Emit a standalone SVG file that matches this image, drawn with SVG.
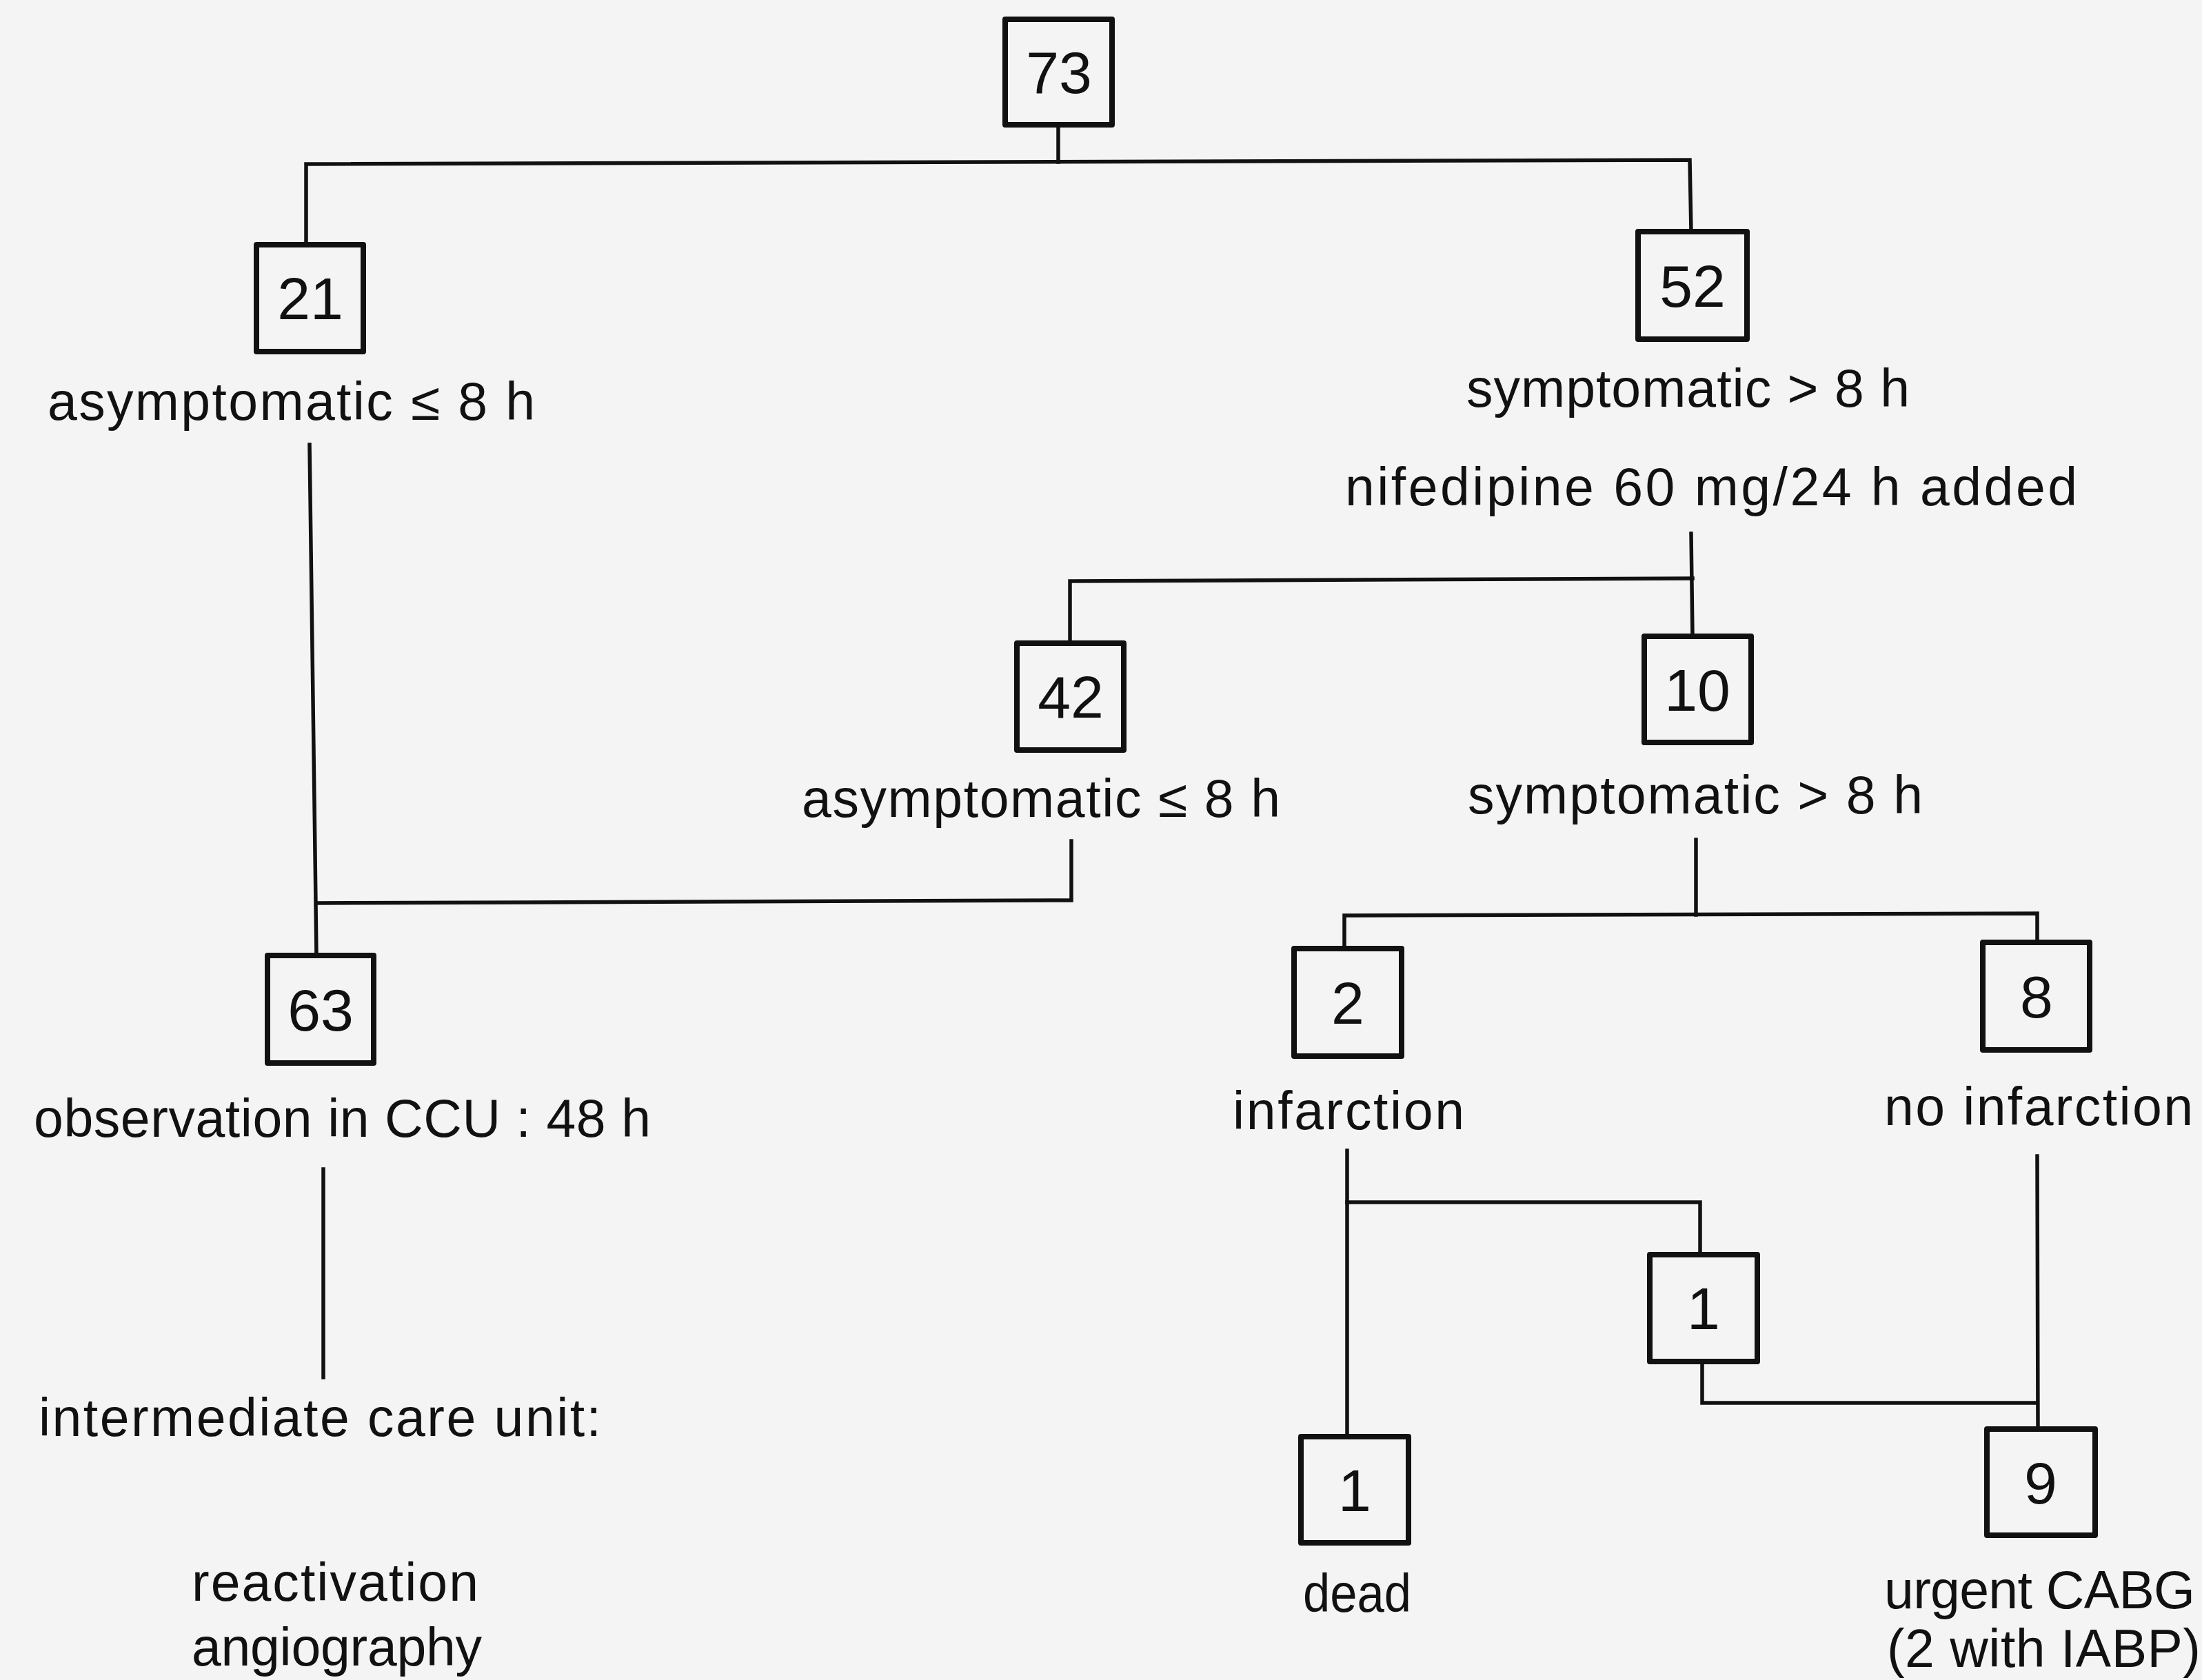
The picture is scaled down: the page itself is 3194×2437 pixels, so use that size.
<svg xmlns="http://www.w3.org/2000/svg" width="3194" height="2437" viewBox="0 0 3194 2437">
<style>
  .bg { fill: #f4f4f4; }
  .box { fill: none; stroke: #111; stroke-width: 8; stroke-linejoin: round; }
  .num { font-family: "Liberation Sans", Arial, sans-serif; font-size: 86px; fill: #111; text-anchor: middle; }
  .lbl { font-family: "Liberation Sans", Arial, sans-serif; font-size: 77px; fill: #111; }
  .conn path { fill: none; stroke: #111; stroke-width: 5.5; stroke-linecap: square; stroke-linejoin: miter; }
</style>
<rect class="bg" x="0" y="0" width="3194" height="2437"/>

<g id="connectors" class="conn">
  <path d="M1535,181 L1535,235"/>
  <path d="M444,355 L444,238 L2451,232 L2453,336"/>
  <path d="M449,645 L459,1386"/>
  <path d="M1554,1220 L1554,1306 L459,1310"/>
  <path d="M2453,774 L2455,923"/>
  <path d="M2455,839 L1552,843 L1552,933"/>
  <path d="M2460,1218 L2460,1327"/>
  <path d="M1950,1376 L1950,1328 L2955,1325 L2955,1367"/>
  <path d="M469,1696 L469,1998"/>
  <path d="M1954,1669 L1954,2084"/>
  <path d="M1954,1744 L2466,1744 L2466,1820"/>
  <path d="M2469,1975 L2469,2035 L2955,2035"/>
  <path d="M2955,1677 L2956,2073"/>
</g>

<g id="n73"><rect class="box" x="1458" y="28" width="155" height="153"/><text class="num" x="1536" y="135">73</text></g>
<g id="n21"><rect class="box" x="372" y="355" width="155" height="155"/><text class="num" x="450" y="463">21</text></g>
<g id="n52"><rect class="box" x="2376" y="336" width="158" height="156"/><text class="num" x="2455" y="445">52</text></g>
<g id="n42"><rect class="box" x="1475" y="933" width="155" height="155"/><text class="num" x="1553" y="1041">42</text></g>
<g id="n10"><rect class="box" x="2385" y="923" width="155" height="154"/><text class="num" x="2462" y="1031">10</text></g>
<g id="n63"><rect class="box" x="388" y="1386" width="154" height="156"/><text class="num" x="465" y="1495">63</text></g>
<g id="n2"><rect class="box" x="1877" y="1376" width="156" height="156"/><text class="num" x="1955" y="1485">2</text></g>
<g id="n8"><rect class="box" x="2876" y="1367" width="155" height="156"/><text class="num" x="2954" y="1476">8</text></g>
<g id="n1a"><rect class="box" x="2393" y="1820" width="156" height="155"/><text class="num" x="2471" y="1928">1</text></g>
<g id="n1b"><rect class="box" x="1887" y="2084" width="156" height="154"/><text class="num" x="1965" y="2192">1</text></g>
<g id="n9"><rect class="box" x="2882" y="2073" width="157" height="154"/><text class="num" x="2960" y="2181">9</text></g>

<g id="labels">
  <text class="lbl" x="69" y="609" textLength="707" lengthAdjust="spacing">asymptomatic ≤ 8 h</text>
  <text class="lbl" x="2127" y="590" textLength="643" lengthAdjust="spacing">symptomatic &gt; 8 h</text>
  <text class="lbl" x="1951" y="733" textLength="1062" lengthAdjust="spacing">nifedipine  60 mg/24 h added</text>
  <text class="lbl" x="1163" y="1185" textLength="694" lengthAdjust="spacing">asymptomatic ≤ 8 h</text>
  <text class="lbl" x="2129" y="1180" textLength="660" lengthAdjust="spacing">symptomatic &gt; 8 h</text>
  <text class="lbl" x="49" y="1649" textLength="895" lengthAdjust="spacing">observation in CCU : 48 h</text>
  <text class="lbl" x="1788" y="1638" textLength="336" lengthAdjust="spacing">infarction</text>
  <text class="lbl" x="2733" y="1632" textLength="448" lengthAdjust="spacing">no infarction</text>
  <text class="lbl" x="56" y="2083" textLength="816" lengthAdjust="spacing">intermediate care unit:</text>
  <text class="lbl" x="278" y="2322" textLength="416" lengthAdjust="spacing">reactivation</text>
  <text class="lbl" x="278" y="2416" textLength="421" lengthAdjust="spacing">angiography</text>
  <text class="lbl" x="1890" y="2338" textLength="157" lengthAdjust="spacingAndGlyphs">dead</text>
  <text class="lbl" x="2733" y="2333" textLength="451" lengthAdjust="spacing">urgent CABG</text>
  <text class="lbl" x="2737" y="2418" textLength="455" lengthAdjust="spacing">(2 with IABP)</text>
</g>
</svg>
